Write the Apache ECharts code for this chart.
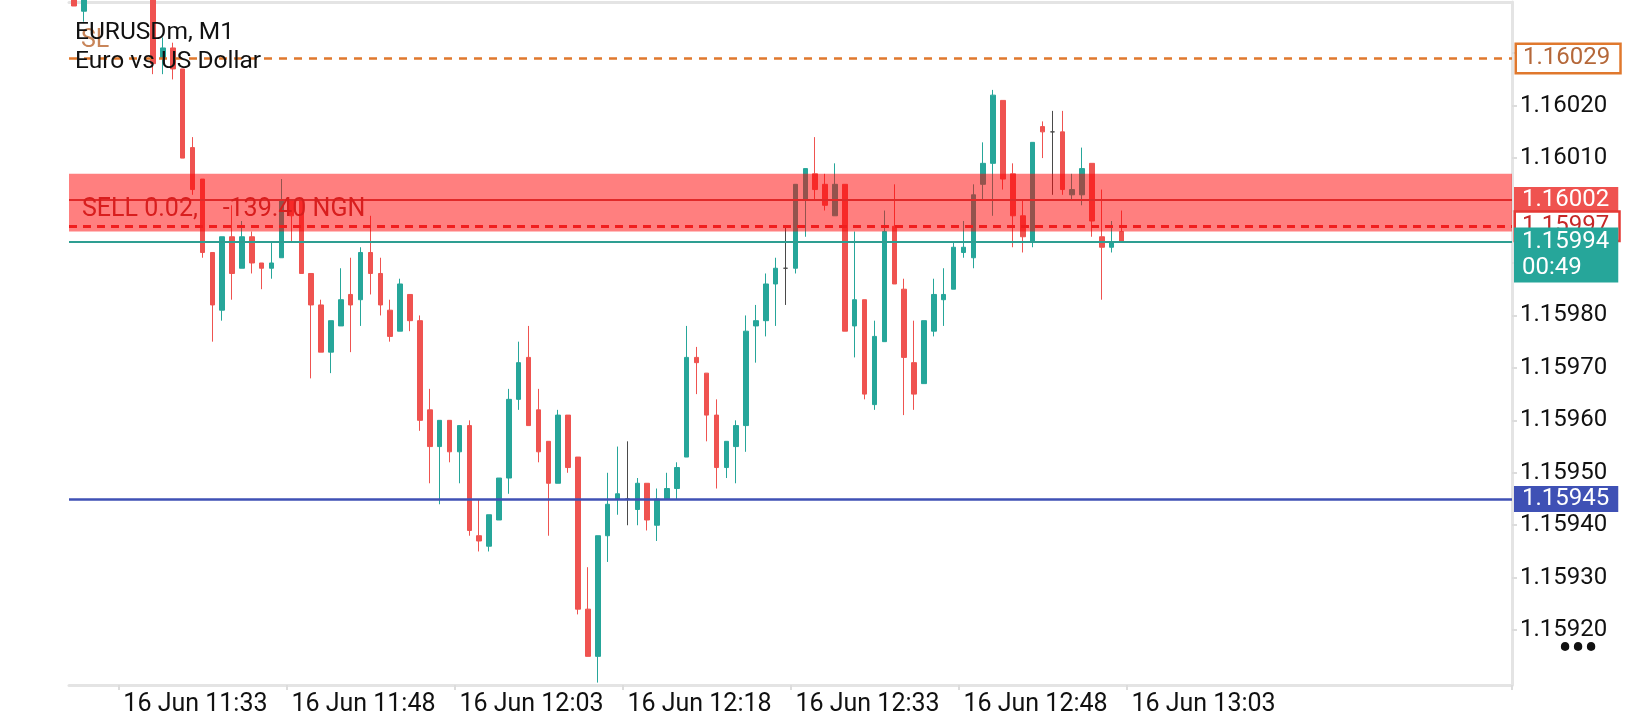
<!DOCTYPE html>
<html><head><meta charset="utf-8">
<script src="https://cdn.jsdelivr.net/npm/echarts@6/dist/echarts.min.js"></script>
<style>html,body{margin:0;padding:0;background:#fff}#chart{width:1640px;height:720px}</style>
</head><body><div id="chart"></div>
<script>
// ---- data (EURUSDm, M1) ----
const OPEN = [1.16045,1.16038,1.16044,1.16049,1.16052,1.16048,1.16051,1.16046,1.16047,1.16029,
1.16031,1.16027,1.16012,1.16006,1.15992,1.15981,1.15995,1.15989,1.15995,1.15990,
1.15989,1.15991,1.16002,1.16002,1.15988,1.15982,1.15973,1.15978,1.15984,1.15983,
1.15992,1.15988,1.15981,1.15977,1.15984,1.15979,1.15962,1.15955,1.15960,1.15954,
1.15959,1.15938,1.15936,1.15941,1.15949,1.15964,1.15972,1.15962,1.15956,1.15948,
1.15961,1.15953,1.15924,1.15915,1.15938,1.15945,1.15945,1.15943,1.15948,1.15940,
1.15945,1.15947,1.15953,1.15972,1.15969,1.15961,1.15951,1.15955,1.15959,1.15978,
1.15979,1.15986,1.15989,1.15989,1.16002,1.16007,1.16005,1.15999,1.16005,1.15978,
1.15983,1.15963,1.15975,1.15997,1.15985,1.15971,1.15967,1.15977,1.15983,1.15985,
1.15992,1.15991,1.16005,1.16009,1.16021,1.16007,1.15999,1.15994,1.16016,1.16015,
1.16015,1.16003,1.16003,1.16009,1.15995,1.15993,1.15996];
const CLOSE = [1.16039,1.16044,1.16049,1.16052,1.16048,1.16051,1.16046,1.16050,1.16028,1.16031,
1.16027,1.16010,1.16004,1.15992,1.15982,1.15995,1.15988,1.15995,1.15990,1.15989,
1.15990,1.16002,1.15999,1.15988,1.15982,1.15973,1.15979,1.15983,1.15982,1.15992,
1.15988,1.15982,1.15976,1.15986,1.15979,1.15960,1.15955,1.15960,1.15954,1.15959,
1.15939,1.15937,1.15942,1.15949,1.15964,1.15971,1.15959,1.15954,1.15948,1.15961,
1.15951,1.15924,1.15915,1.15938,1.15944,1.15946,1.15945,1.15948,1.15941,1.15945,
1.15947,1.15951,1.15972,1.15971,1.15961,1.15951,1.15956,1.15959,1.15977,1.15979,
1.15986,1.15989,1.15989,1.16005,1.16008,1.16004,1.16001,1.16005,1.15977,1.15983,
1.15965,1.15976,1.15996,1.15986,1.15972,1.15965,1.15979,1.15984,1.15984,1.15993,
1.15993,1.16003,1.16009,1.16022,1.16006,1.15999,1.15995,1.16013,1.16015,1.16015,
1.16004,1.16004,1.16008,1.15998,1.15993,1.15994,1.15994];
const LOW = [1.16039,1.16036,1.16042,1.16047,1.16046,1.16045,1.16044,1.16043,1.16026,1.16026,
1.16025,1.16010,1.16003,1.15991,1.15975,1.15979,1.15983,1.15989,1.15988,1.15985,
1.15987,1.15991,1.15994,1.15988,1.15968,1.15973,1.15969,1.15978,1.15973,1.15978,
1.15984,1.15980,1.15975,1.15977,1.15977,1.15958,1.15948,1.15944,1.15952,1.15948,
1.15938,1.15935,1.15935,1.15941,1.15946,1.15962,1.15959,1.15952,1.15938,1.15948,
1.15950,1.15923,1.15915,1.15910,1.15933,1.15942,1.15940,1.15940,1.15939,1.15937,
1.15945,1.15945,1.15953,1.15965,1.15956,1.15947,1.15949,1.15948,1.15954,1.15971,
1.15976,1.15978,1.15982,1.15988,1.15995,1.16002,1.16000,1.15999,1.15977,1.15972,
1.15964,1.15962,1.15975,1.15986,1.15961,1.15962,1.15967,1.15976,1.15978,1.15985,
1.15991,1.15989,1.16002,1.15999,1.16004,1.15993,1.15992,1.15993,1.16010,1.16003,
1.16003,1.16002,1.16001,1.15995,1.15983,1.15992,1.15994];
const HIGH = [1.16047,1.16046,1.16051,1.16055,1.16054,1.16053,1.16052,1.16051,1.16048,1.16033,
1.16032,1.16027,1.16014,1.16006,1.15992,1.15995,1.16001,1.15998,1.15996,1.15990,
1.15994,1.16006,1.16002,1.16002,1.15988,1.15983,1.15979,1.15989,1.15991,1.15993,
1.15999,1.15991,1.15983,1.15987,1.15984,1.15980,1.15966,1.15960,1.15960,1.15959,
1.15960,1.15945,1.15942,1.15949,1.15966,1.15975,1.15978,1.15966,1.15956,1.15962,
1.15961,1.15953,1.15932,1.15938,1.15950,1.15955,1.15956,1.15949,1.15948,1.15947,
1.15950,1.15952,1.15978,1.15974,1.15969,1.15964,1.15956,1.15960,1.15980,1.15982,
1.15988,1.15991,1.15997,1.16005,1.16008,1.16014,1.16007,1.16009,1.16005,1.15996,
1.15983,1.15979,1.16000,1.16005,1.15987,1.15979,1.15979,1.15987,1.15989,1.15994,
1.15998,1.16005,1.16013,1.16023,1.16021,1.16009,1.16002,1.16013,1.16017,1.16019,
1.16019,1.16007,1.16012,1.16009,1.16004,1.15998,1.16000];

const SLOT_COUNT = 146;                 // bar slots across the visible chart width
const TICK_INDEX = [5, 22, 39, 56, 73, 90, 107];
const TICK_LABELS = ['16 Jun 11:33','16 Jun 11:48','16 Jun 12:03','16 Jun 12:18','16 Jun 12:33','16 Jun 12:48','16 Jun 13:03'];
const PRICE_LABELS = [1.1592,1.1593,1.1594,1.1595,1.1596,1.1597,1.1598,1.1601,1.1602];
const PRICE_TICKS = [1.1592,1.1593,1.1594,1.1595,1.1596,1.1597,1.1598,1.1599,1.1600,1.1601,1.1602,1.1603];
const Y_MIN = 1.1590954, Y_MAX = 1.1603976;

const SL_PRICE = 1.16029;
const ENTRY_PRICE = 1.16002;
const ASK_PRICE = 1.15997;
const BID_PRICE = 1.15994;
const LEVEL_PRICE = 1.15945;
const ZONE = [1.16007, 1.15996];
const TIMER = '00:49';
const TITLE = ['EURUSDm, M1', 'Euro vs US Dollar'];
const TRADE_TEXT = 'SELL 0.02,    -139.40 NGN';

const CATEGORIES = Array.from({length: SLOT_COUNT}, (_, i) => String(i));
const candles = OPEN.map((o, i) => [o, CLOSE[i], LOW[i], HIGH[i]]);

const FONT = 'Roboto, "Noto Sans", sans-serif';
const fmt = v => v.toFixed(5);

function boxLabel(text, bg, fg, border, extra) {
  return Object.assign({
    show: true, position: 'end', formatter: text, fontFamily: FONT, fontSize: 24,
    lineHeight: 24, color: fg, backgroundColor: bg, borderColor: border || bg,
    borderWidth: border ? 2.5 : 0, padding: [1, 9, 1, 8], distance: 2
  }, extra || {});
}

function level(price, lineStyle, label) {
  return {yAxis: price, lineStyle: lineStyle, label: label};
}

const chart = echarts.init(document.getElementById('chart'), null, {renderer: 'canvas'});
chart.setOption({
  animation: false,
  backgroundColor: '#ffffff',
  grid: {left: 69, right: 128, top: 2, bottom: 35, containLabel: false},
  xAxis: [{
    type: 'category', data: CATEGORIES, boundaryGap: true,
    axisLine: {show: true, lineStyle: {color: '#e4e4e4', width: 3}},
    axisTick: {show: true, interval: (i) => TICK_INDEX.includes(i), length: 5, lineStyle: {color: '#dcdcdc', width: 2}},
    axisLabel: {
      show: true, interval: (i) => TICK_INDEX.includes(i), align: 'left', margin: 7,
      formatter: (v, i) => TICK_LABELS[TICK_INDEX.indexOf(i)] || '',
      fontFamily: FONT, fontSize: 25, color: '#111'
    },
    splitLine: {show: false}
  }, {
    type: 'category', data: CATEGORIES, position: 'top', boundaryGap: true,
    axisLine: {show: true, lineStyle: {color: '#e4e4e4', width: 3}},
    axisTick: {show: false}, axisLabel: {show: false}, splitLine: {show: false}
  }],
  yAxis: {
    type: 'value', position: 'right', min: Y_MIN, max: Y_MAX,
    axisLine: {show: true, lineStyle: {color: '#e4e4e4', width: 3}},
    axisTick: {show: true, customValues: PRICE_TICKS, length: 5, lineStyle: {color: '#dcdcdc', width: 2}},
    axisLabel: {show: true, customValues: PRICE_LABELS, formatter: fmt, margin: 8,
      fontFamily: FONT, fontSize: 24, color: '#111'},
    splitLine: {show: false}
  },
  series: [{
    type: 'candlestick', name: 'EURUSDm', data: candles, xAxisIndex: 0, yAxisIndex: 0, clip: true,
    barWidth: 5,
    itemStyle: {color: '#26a69a', color0: '#ef5350', borderColor: '#26a69a', borderColor0: '#ef5350',
      borderColorDoji: '#4a4a4a', borderWidth: 1},
    markArea: {
      z: 3, silent: true,
      itemStyle: {color: 'rgba(255,0,0,0.5)', borderWidth: 0},
      data: [[{yAxis: ZONE[0]}, {yAxis: ZONE[1]}]]
    }
  }, {
    type: 'line', name: 'levels', data: [], xAxisIndex: 0, yAxisIndex: 0, z: 5, silent: true,
    markLine: {
      z: 5, silent: true, symbol: ['none', 'none'], animation: false, precision: 5,
      data: [
        level(SL_PRICE, {color: '#e0782d', width: 2.5, type: [8, 7]},
          boxLabel(fmt(SL_PRICE), '#ffffff', '#b5683a', '#e0782d', {distance: 5, padding: [2, 9, 1, 6]})),
        level(ENTRY_PRICE, {color: '#e02a2a', width: 2, type: 'solid'},
          boxLabel(fmt(ENTRY_PRICE), '#ef5350', '#ffffff', null)),
        level(ASK_PRICE, {color: '#f01e1e', width: 3, type: [8, 6]},
          boxLabel(fmt(ASK_PRICE), '#ffffff', '#c62828', '#e53935', {distance: 4, padding: [2, 9, 1, 6]})),
        level(BID_PRICE, {color: '#2e9e92', width: 2, type: 'solid'},
          boxLabel(fmt(BID_PRICE) + '\n' + TIMER, '#26a69a', '#ffffff', null, {lineHeight: 26, padding: [2, 9, 1, 8], offset: [0, 13]})),
        level(LEVEL_PRICE, {color: '#3f51b5', width: 2.5, type: 'solid'},
          boxLabel(fmt(LEVEL_PRICE), '#3f51b5', '#ffffff', null))
      ]
    }
  }],
  graphic: [
    {type: 'text', x: 81, y: 41, z: 1, silent: true,
      style: {text: 'SL', font: '25px ' + FONT, fill: 'rgba(190,112,60,0.85)', verticalAlign: 'middle'}},
    {type: 'text', x: 75, y: 33, z: 20, silent: true,
      style: {text: TITLE[0], font: '24.5px ' + FONT, fill: '#111', verticalAlign: 'middle'}},
    {type: 'text', x: 75, y: 61.5, z: 20, silent: true,
      style: {text: TITLE[1], font: '24.5px ' + FONT, fill: '#111', verticalAlign: 'middle'}},
    {type: 'text', x: 82, y: 210, z: 20, silent: true,
      style: {text: TRADE_TEXT, font: '25px ' + FONT, fill: '#d81e1e', verticalAlign: 'middle'}},
    {type: 'text', x: 1578, y: 651, z: 20, silent: true,
      style: {text: '•••', font: 'bold 36px ' + FONT, fill: '#111', align: 'center', verticalAlign: 'middle'}}
  ]
});
</script>
</body></html>
